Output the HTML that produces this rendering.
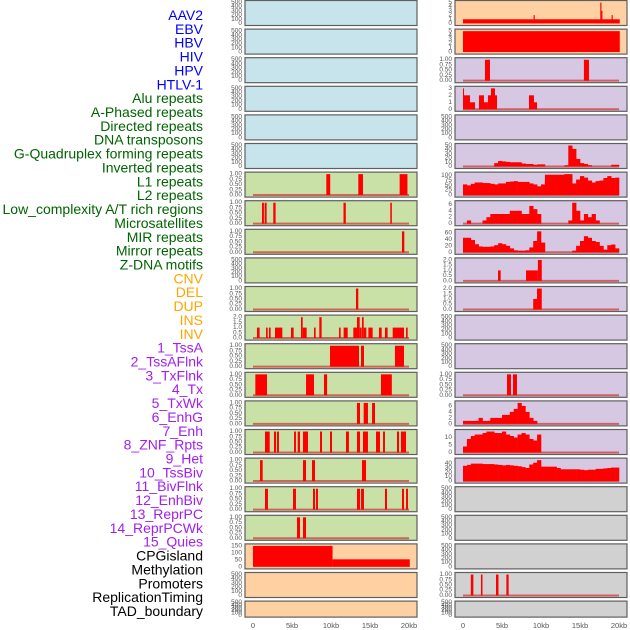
<!DOCTYPE html>
<html><head><meta charset="utf-8"><style>
html,body{margin:0;padding:0;background:#fff;}
svg{display:block;font-family:"Liberation Sans",sans-serif;}
</style></head>
<body>
<svg id="chart" width="630" height="630" viewBox="0 0 630 630"></svg>
<script>
// ---- data ----
const trackLabels = ["AAV2","EBV","HBV","HIV","HPV","HTLV-1","Alu repeats","A-Phased repeats","Directed repeats","DNA transposons","G-Quadruplex forming repeats","Inverted repeats","L1 repeats","L2 repeats","Low_complexity A/T rich regions","Microsatellites","MIR repeats","Mirror repeats","Z-DNA motifs","CNV","DEL","DUP","INS","INV","1_TssA","2_TssAFlnk","3_TxFlnk","4_Tx","5_TxWk","6_EnhG","7_Enh","8_ZNF_Rpts","9_Het","10_TssBiv","11_BivFlnk","12_EnhBiv","13_ReprPC","14_ReprPCWk","15_Quies","CPGisland","Methylation","Promoters","ReplicationTiming","TAD_boundary"];
const labelGroups = [6,13,5,15,5];
const xTicks = [0,5,10,15,20];
const xTickLabels = ["0","5kb","10kb","15kb","20kb"];

const ticks500 = [0,100,200,300,400,500];
const ticks1 = [0,0.25,0.5,0.75,1];
const ticks2 = [0,0.5,1,1.5,2];
const ticks5 = [0,1,2,3,4,5];
const ticks3 = [0,1,2,3];
const ticks150 = [0,50,100,150];
const ticks50 = [0,10,20,30,40,50];
const ticks100 = [0,25,50,75,100];
const ticks6 = [0,2,4,6];
const ticks60 = [0,20,40,60];
const ticks10 = [0,5,10];
const ticks40 = [0,10,20,30,40];

// left column segments [startKb, endKb, value]
const segL6 = [[9.4,9.9,1],[13.5,14.1,1],[18.8,19.8,1]];
const segL7 = [[1.15,1.4,1],[1.5,1.75,1],[2.6,2.9,1],[11.6,11.9,1],[17.6,17.8,1]];
const segL8 = [[19.1,19.4,1]];
const segL10 = [[13.2,13.5,1]];
const segL11 = [[0.51,0.85,1],[1.67,1.88,1],[2.05,2.26,1],[2.82,3.76,1],[4.87,5.21,1],[6.15,6.37,2],[6.37,6.88,1],[7.82,8.03,1],[8.5,8.8,2],[11.03,11.24,1],[11.62,12.14,1],[12.86,13.33,1],[13.33,13.68,2],[13.68,13.93,1],[13.97,14.19,2],[14.19,14.53,1],[14.79,15.34,1],[16.15,16.5,1],[16.92,17.26,1],[17.91,19.36,1],[19.62,19.83,1]];
const segL12 = [[9.87,13.59,1],[13.85,14.23,1],[18.2,19.36,1]];
const segL13 = [[0.3,1.8,1],[6.8,7.82,1],[9.1,9.5,1],[16.4,17.8,1]];
const segL14 = [[13.33,13.72,1],[14.19,14.74,1],[15.26,15.64,1]];
const segL15 = [[1.54,2.14,1],[2.69,2.95,1],[3.08,3.33,1],[5.26,5.51,1],[5.73,6.03,1],[6.41,7.05,1],[8.59,8.85,1],[9.87,10.13,1],[11.92,12.3,1],[13.33,13.72,1],[14.1,14.74,1],[15.77,16.28,1],[16.67,16.92,1],[18.46,18.72,1],[18.97,19.62,1]];
const segL16 = [[0.9,1.24,1],[6.41,6.8,1],[7.56,7.95,1],[13.97,14.49,1]];
const segL17 = [[1.54,1.92,1],[5.13,5.51,1],[7.69,7.95,1],[8.08,8.33,1],[13.33,13.72,1],[13.85,14.23,1],[16.92,17.18,1],[19.1,19.36,1],[19.62,19.87,1]];
const segL18 = [[5.64,6.03,1],[6.41,6.8,1]];
const segL19 = [[0,10.2,150],[10.2,20.1,54]];

// right column
const segR0 = [[0,20.1,1],[9.05,9.2,2],[17.6,17.75,5],[17.75,17.85,3],[19.05,19.2,2]];
const segR1 = [[0,20.1,5]];
const segR2 = [[2.82,3.46,1],[15.5,16.15,1]];
const segR3 = [[0,0.13,3],[0.13,0.9,2],[0.9,1.54,1],[2.05,2.69,2],[2.69,3.2,1],[3.2,3.59,2],[3.59,4.1,3],[4.1,4.36,2],[8.46,9.1,2],[9.1,9.49,1]];
const binR5 = [0,0,0,0,0,0,0,0,8,13,12,11,10,10,10,7,6,6,4,5,5,0,0,0,0,0,3,50,42,18,8,6,3,0,0,0,0,0,4,4];
const binR6 = [55,50,58,65,65,62,62,58,55,60,60,68,70,72,68,68,68,60,55,45,55,105,105,105,105,105,108,108,60,80,98,90,75,65,72,75,88,98,88,90];
const binR7 = [0,1,0,0,0,1,2,3,3,3,3,3,4,4,4,3,3,5.5,4.5,3,0,0,0,0,0,0,0,1,6.5,4,1,3,2,3,1,0,0,0,0,0];
const binR8 = [45,45,38,25,18,17,17,18,22,28,25,20,12,6,5,5,6,15,35,65,30,0,0,0,0,0,0,0,5,20,35,50,45,35,32,20,8,22,24,12];
const segR9 = [[4.49,4.83,1],[8.08,9.6,1],[9.6,10.1,2]];
const segR10 = [[9.0,9.49,1],[9.49,10.1,2]];
const segR13 = [[5.64,6.15,1],[6.41,6.92,1]];
const binR14 = [1,1,1,1,2,1,1,2,2,2,3,3,4,5,7,6,4,2,1,0,0,0,0,0,0,0,0,0,0,0,0,0,0,0,0,0,0,0,0,0];
const binR15 = [4,9,11,12,12,13,14,14,13,13,14,12,11,10,12,13,12,9,8,12,0,0,0,0,0,0,0,0,0,0,0,0,0,0,0,0,0,0,0,0];
const binR16 = [35,37,40,40,40,39,39,39,38,37,36,37,36,35,34,32,30,38,42,48,33,33,33,33,30,27,27,27,27,27,26,25,26,26,28,28,29,30,31,31];
const segR20 = [[1.0,1.33,1],[2.3,2.5,1],[4.23,4.55,1],[5.56,5.85,1]];

const C = {blue:"#c7e3eb",green:"#c9e1a6",orange:"#ffd1a2",purple:"#d6c7e3",gray:"#d1d1d1"};
const leftPanels = [
 {bg:C.blue,ticks:ticks500},{bg:C.blue,ticks:ticks500},{bg:C.blue,ticks:ticks500},{bg:C.blue,ticks:ticks500},{bg:C.blue,ticks:ticks500},{bg:C.blue,ticks:ticks500},
 {bg:C.green,ticks:ticks1,seg:segL6,fmt:2},{bg:C.green,ticks:ticks1,seg:segL7,fmt:2},{bg:C.green,ticks:ticks1,seg:segL8,fmt:2},{bg:C.green,ticks:ticks500},
 {bg:C.green,ticks:ticks1,seg:segL10,fmt:2},{bg:C.green,ticks:ticks2,seg:segL11,fmt:1},{bg:C.green,ticks:ticks1,seg:segL12,fmt:2},{bg:C.green,ticks:ticks1,seg:segL13,fmt:2},
 {bg:C.green,ticks:ticks1,seg:segL14,fmt:2},{bg:C.green,ticks:ticks1,seg:segL15,fmt:2},{bg:C.green,ticks:ticks1,seg:segL16,fmt:2},{bg:C.green,ticks:ticks1,seg:segL17,fmt:2},
 {bg:C.green,ticks:ticks1,seg:segL18,fmt:2},{bg:C.orange,ticks:ticks150,seg:segL19,nobase:true},{bg:C.orange,ticks:ticks500},{bg:C.orange,ticks:ticks500}
];
const rightPanels = [
 {bg:C.orange,ticks:ticks5,seg:segR0,nobase:true},{bg:C.orange,ticks:ticks5,seg:segR1,nobase:true},{bg:C.purple,ticks:ticks1,seg:segR2,fmt:2},{bg:C.purple,ticks:ticks3,seg:segR3},
 {bg:C.purple,ticks:ticks500},{bg:C.purple,ticks:ticks50,bins:binR5},{bg:C.purple,ticks:ticks100,bins:binR6},{bg:C.purple,ticks:ticks6,bins:binR7},
 {bg:C.purple,ticks:ticks60,bins:binR8},{bg:C.purple,ticks:ticks2,seg:segR9,fmt:1},{bg:C.purple,ticks:ticks2,seg:segR10,fmt:1},{bg:C.purple,ticks:ticks500},
 {bg:C.purple,ticks:ticks500},{bg:C.purple,ticks:ticks1,seg:segR13,fmt:2},{bg:C.purple,ticks:ticks6,bins:binR14},{bg:C.purple,ticks:ticks10,bins:binR15},
 {bg:C.purple,ticks:ticks40,bins:binR16},{bg:C.gray,ticks:ticks500},{bg:C.gray,ticks:ticks500},{bg:C.gray,ticks:ticks500},
 {bg:C.gray,ticks:ticks1,seg:segR20,fmt:2},{bg:C.gray,ticks:ticks500}
];

// ---- drawing ----
const NS = "http://www.w3.org/2000/svg";
const svg = document.getElementById("chart");
function mk(tag, attrs, parent){
  const e = document.createElementNS(NS, tag);
  for (const k in attrs) e.setAttribute(k, attrs[k]);
  (parent||svg).appendChild(e);
  return e;
}
const groupColors = ["#0000ff","#006400","#ffa500","#a020f0","#000000"];
let gi=0, cnt=0;
trackLabels.forEach((t,i)=>{
  while (cnt >= labelGroups[gi]) { cnt -= labelGroups[gi]; gi++; }
  const tx = mk("text",{x:203,y:15+i*13.86,"text-anchor":"end","dominant-baseline":"central","font-size":14,fill:groupColors[gi]});
  tx.textContent = t;
  
  
  cnt++;
});

function drawColumn(panels, left, x0, colName){
  const pw = 172, pxPerKb = 7.8;
  const xs = kb => x0 + kb*pxPerKb;
  panels.forEach((p,i)=>{
    const top = i*28.6 + 0.5, h = (i===21)?16:25;
    const g = mk("g",{});
    
    
    const r = mk("rect",{x:left,y:top,width:pw,height:h,fill:p.bg,stroke:"#5f5f5f","stroke-width":1.2},g);
    
    
    let dmax = p.ticks[p.ticks.length-1];
    if (p.bins) dmax = Math.max(dmax, ...p.bins);
    if (p.seg) dmax = Math.max(dmax, ...p.seg.map(s=>s[2]));
    const lo = -0.05*dmax, hi = dmax*1.05;
    const ys = v => top + h - 1 - (v-lo)/(hi-lo)*(h-2);
    p.ticks.forEach(tv=>{
      const lab = mk("text",{x:left-3,y:ys(tv),"text-anchor":"end","dominant-baseline":"central","font-size":6.5,fill:"#555"},g);
      lab.textContent = p.fmt ? tv.toFixed(p.fmt) : String(tv);
      
      
    });
    const hasData = p.seg || p.bins;
    if (hasData && !p.nobase){
      const bl = mk("line",{x1:xs(0),x2:xs(20),y1:ys(0),y2:ys(0),stroke:"rgba(205,60,60,0.75)","stroke-width":2},g);
      
      
    }
    if (p.seg){
      p.seg.forEach(s=>{
        const y1 = ys(s[2]), y0 = ys(0);
        const b = mk("rect",{x:xs(s[0]),y:Math.min(y1,y0),width:Math.max(1,xs(s[1])-xs(s[0])),height:Math.abs(y0-y1),fill:"#ff0000"},g);
        
        
      });
    }
    if (p.bins){
      p.bins.forEach((v,k)=>{
        if (v<=0) return;
        const y1 = ys(v), y0 = ys(0);
        const b = mk("rect",{x:xs(k*0.5),y:y1,width:xs((k+1)*0.5)-xs(k*0.5)+0.3,height:y0-y1,fill:"#ff0000"},g);
        
        
      });
    }
  });
  xTicks.forEach((kb,j)=>{
    const t = mk("text",{x:xs(kb),y:628,"text-anchor":"middle","font-size":7.5,fill:"#555"});
    t.textContent = xTickLabels[j];
    
    
  });
}
drawColumn(leftPanels, 245, 253, "left");
drawColumn(rightPanels, 455, 463, "right");
</script>
</body></html>
